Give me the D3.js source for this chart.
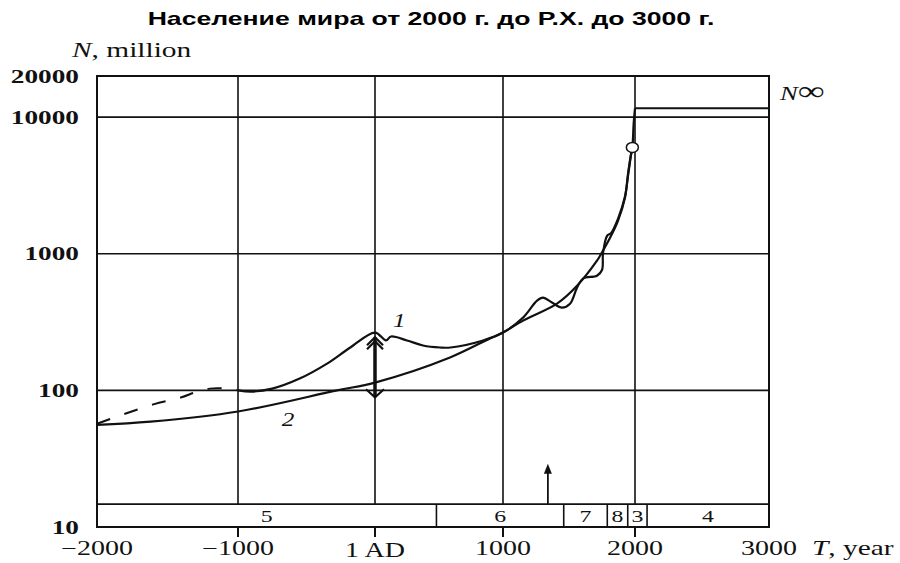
<!DOCTYPE html>
<html>
<head>
<meta charset="utf-8">
<script src="https://cdn.jsdelivr.net/npm/d3@7"></script>
<style>
  body { margin: 0; background: #fff; }
  svg { display: block; }
  .serif { font-family: "Liberation Serif", "DejaVu Serif", serif; fill: #111; }
</style>
</head>
<body>
<div id="chart"></div>
<script>
// ticks
var xTicks = [-2000, -1000, 0, 1000, 2000, 3000]
var xTickLabels = ["\u22122000", "\u22121000", "1 AD", "1000", "2000", "3000"]
var yTicks = [10, 100, 1000, 10000, 20000]
var yTickLabels = ["10", "100", "1000", "10000", "20000"]
var xGrid = [-1000, 0, 1000, 2000]
var yGrid = [100, 1000, 10000]

// curve 1, dashed early estimate [year, million]
var curve1Dashed = [[-2000, 57], [-1600, 79], [-1400, 89], [-1300, 97], [-1200, 103], [-1080, 103], [-1000, 100]]
// curve 1, data
var curve1 = [[-1000, 100], [-900, 98], [-750, 103], [-550, 122], [-350, 157], [-180, 206], [0, 265],
  [86, 232], [125, 248], [250, 232], [375, 213], [508, 206], [590, 206], [844, 232], [1000, 265],
  [1152, 341], [1258, 454], [1303, 477], [1371, 439], [1447, 404], [1508, 431], [1561, 565],
  [1606, 658], [1712, 691], [1750, 760], [1758, 1016], [1790, 1360], [1820, 1420], [1871, 1800],
  [1924, 2620], [1950, 3900], [1970, 5300], [1980, 6000]]
// curve 2, hyperbolic model
var curve2 = [[-2000, 56], [-1620, 59], [-1000, 70], [-277, 100], [0, 114], [586, 174], [898, 240],
  [1000, 265], [1152, 324], [1409, 431], [1561, 583], [1712, 889], [1735, 966], [1811, 1309],
  [1871, 1741], [1924, 2565], [1947, 3837], [1970, 5370], [1980, 6000], [1990, 9000], [2000, 11600]]
var nInf = [[2000, 11600], [3000, 11600]]
var nowPoint = [1980, 6000]

// phases in the bottom band
var phaseBounds = [-2000, 480, 1460, 1790, 1945, 2090, 3000]
var phaseLabels = ["5", "6", "7", "8", "3", "4"]
var bandTop = 14.7
var arrowYear = 1340
var arrowTip = 29
var rangeAD = [245, 89]

var svg = d3.select("#chart").append("svg").attr("width", 900).attr("height", 563)

var x = d3.scaleLinear().domain(xTicks).range([97, 238, 375, 503, 635, 769])
var y = d3.scaleLog().domain([10, 20000]).range([527, 76])

var ink = "#111"
var stretch = 1.4   // the source figure is wide, text is stretched too

// put a text at (px, py) and stretch it sideways
function place(sel, px, py) {
  return sel.attr("x", 0).attr("y", 0)
    .attr("transform", (d, i) => {
      var a = typeof px == "function" ? px(d, i) : px
      var b = typeof py == "function" ? py(d, i) : py
      return `translate(${a},${b}) scale(${stretch},1)`
    })
}

place(svg.append("text"), 431, 25)
  .attr("text-anchor", "middle")
  .style("font-family", "'Liberation Sans', Arial, sans-serif")
  .style("font-weight", "bold").style("font-size", "19px")
  .text("Население мира от 2000 г. до Р.Х. до 3000 г.")

// grid
svg.append("g").selectAll("line").data(yGrid).enter().append("line")
  .attr("x1", x(-2000)).attr("x2", x(3000))
  .attr("y1", (d) => y(d)).attr("y2", (d) => y(d))
  .style("stroke", ink).style("stroke-width", 1.6)
svg.append("g").selectAll("line").data(xGrid).enter().append("line")
  .attr("x1", (d) => x(d)).attr("x2", (d) => x(d))
  .attr("y1", y(20000)).attr("y2", y(bandTop))
  .style("stroke", ink).style("stroke-width", 1.6)

// tick marks under the axis
svg.append("g").selectAll("line").data(xGrid).enter().append("line")
  .attr("x1", (d) => x(d)).attr("x2", (d) => x(d))
  .attr("y1", y(10)).attr("y2", y(10) + 10)
  .style("stroke", ink).style("stroke-width", 2)

// phase band
var band = svg.append("g")
band.append("line")
  .attr("x1", x(-2000)).attr("x2", x(3000))
  .attr("y1", y(bandTop)).attr("y2", y(bandTop))
  .style("stroke", ink).style("stroke-width", 1.6)
band.selectAll("line.div").data(phaseBounds.slice(1, -1)).enter().append("line")
  .attr("class", "div")
  .attr("x1", (d) => x(d)).attr("x2", (d) => x(d))
  .attr("y1", y(bandTop)).attr("y2", y(10))
  .style("stroke", ink).style("stroke-width", 1.6)
place(band.selectAll("text").data(phaseLabels).enter().append("text"),
    (d, i) => (x(phaseBounds[i]) + x(phaseBounds[i + 1])) / 2, y(10) - 5)
  .attr("class", "serif")
  .attr("text-anchor", "middle")
  .style("font-size", "17px")
  .text((d) => d)

// frame
svg.append("rect")
  .attr("x", x(-2000)).attr("y", y(20000))
  .attr("width", x(3000) - x(-2000)).attr("height", y(10) - y(20000))
  .style("fill", "none").style("stroke", ink).style("stroke-width", 2)

// axis labels
place(svg.append("g").selectAll("text").data(yTicks).enter().append("text"),
    79, (d) => y(d) + 6.5)
  .attr("class", "serif")
  .attr("text-anchor", "end")
  .style("font-size", "19.5px").style("font-weight", "bold")
  .text((d, i) => yTickLabels[i])
place(svg.append("g").selectAll("text").data(xTicks).enter().append("text"),
    (d) => x(d), (d) => d == 0 ? 557 : 555)
  .attr("class", "serif")
  .attr("text-anchor", "middle")
  .style("font-size", "20px")
  .text((d, i) => xTickLabels[i])

var tLabel = place(svg.append("text"), 812, 555).attr("class", "serif").style("font-size", "21px")
tLabel.append("tspan").style("font-style", "italic").text("T")
tLabel.append("tspan").text(", year")

var nLabel = place(svg.append("text"), 72, 57).attr("class", "serif").style("font-size", "21px")
nLabel.append("tspan").style("font-style", "italic").text("N")
nLabel.append("tspan").text(", million")

var infLabel = place(svg.append("text"), 780, 100).attr("class", "serif").style("font-size", "19px")
infLabel.append("tspan").style("font-style", "italic").text("N")
infLabel.append("tspan").style("font-size", "27px").text("\u221E")

// curves
var line = d3.line()
  .x((d) => x(d[0]))
  .y((d) => y(d[1]))
  .curve(d3.curveCatmullRom.alpha(0.5))

svg.append("path").datum(curve2).attr("d", line)
  .style("fill", "none").style("stroke", ink).style("stroke-width", 2.2)
svg.append("path").datum(curve1).attr("d", line)
  .style("fill", "none").style("stroke", ink).style("stroke-width", 2.2)
svg.append("path").datum(curve1Dashed).attr("d", line)
  .style("fill", "none").style("stroke", ink).style("stroke-width", 2)
  .style("stroke-dasharray", "14,15")
svg.append("path").datum(nInf).attr("d", d3.line().x((d) => x(d[0])).y((d) => y(d[1])))
  .style("fill", "none").style("stroke", ink).style("stroke-width", 2)

svg.append("ellipse")
  .attr("cx", x(nowPoint[0])).attr("cy", y(nowPoint[1]))
  .attr("rx", 6).attr("ry", 5)
  .style("fill", "#fff").style("stroke", ink).style("stroke-width", 1.5)

// curve numbers
place(svg.append("text"), x(140), y(210) - 19)
  .attr("class", "serif")
  .style("font-size", "18px").style("font-style", "italic").text("1")
place(svg.append("text"), x(-680), y(55))
  .attr("class", "serif")
  .style("font-size", "18px").style("font-style", "italic").text("2")

// range of estimates at 1 AD
var ax = x(0)
svg.append("line")
  .attr("x1", ax).attr("x2", ax)
  .attr("y1", y(rangeAD[0])).attr("y2", y(rangeAD[1]))
  .style("stroke", ink).style("stroke-width", 3.5)
var chev = svg.append("g").style("fill", "none").style("stroke", ink).style("stroke-width", 2.2)
;[0, 4].forEach((o) => {
  chev.append("path").attr("d", `M${ax - 8},${y(rangeAD[0]) + 8 + o}L${ax},${y(rangeAD[0]) + o}L${ax + 8},${y(rangeAD[0]) + 8 + o}`)
})
chev.append("path").attr("d", `M${ax - 9},${y(rangeAD[1]) - 8}L${ax},${y(rangeAD[1])}L${ax + 9},${y(rangeAD[1]) - 8}`)

// arrow at the Black Death
svg.append("line")
  .attr("x1", x(arrowYear)).attr("x2", x(arrowYear))
  .attr("y1", y(arrowTip) + 6).attr("y2", y(bandTop))
  .style("stroke", ink).style("stroke-width", 1.8)
svg.append("path")
  .attr("d", `M${x(arrowYear)},${y(arrowTip)}L${x(arrowYear) - 4},${y(arrowTip) + 10}L${x(arrowYear) + 4},${y(arrowTip) + 10}Z`)
  .style("fill", ink)
</script>
</body>
</html>
